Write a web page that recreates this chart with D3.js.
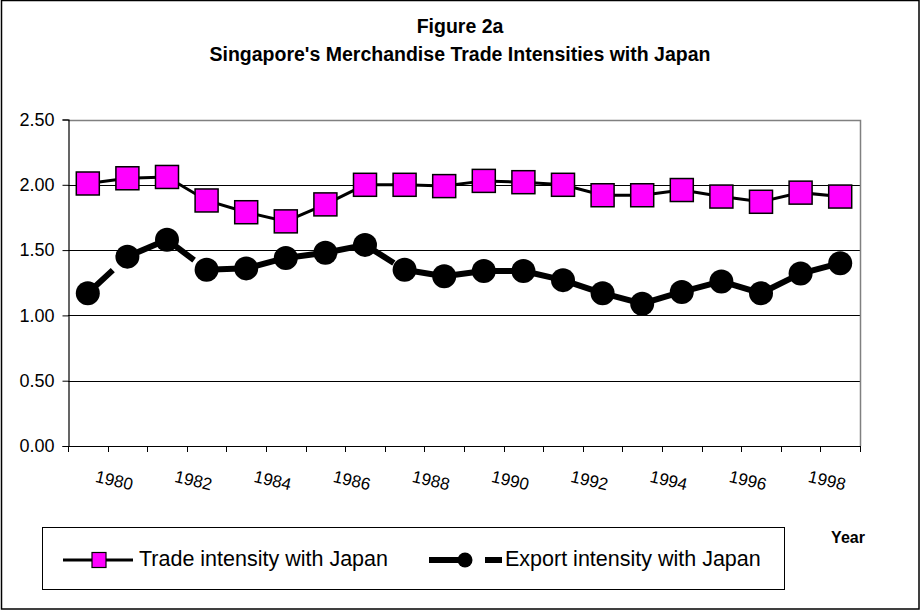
<!DOCTYPE html>
<html>
<head>
<meta charset="utf-8">
<script src="https://cdn.jsdelivr.net/npm/d3@7"></script>
<style>
  html, body { margin: 0; padding: 0; background: #fff; }
  svg { display: block; font-family: "Liberation Sans", Arial, Helvetica, sans-serif; }
</style>
</head>
<body>
<svg id="chart" width="922" height="611"></svg>
<script>
const years = [1979,1980,1981,1982,1983,1984,1985,1986,1987,1988,1989,1990,1991,1992,1993,1994,1995,1996,1997,1998];
const tradeIntensity = [2.01,2.05,2.06,1.88,1.79,1.72,1.85,2.00,2.00,1.99,2.03,2.02,2.00,1.92,1.92,1.96,1.91,1.87,1.94,1.91];
const exportIntensity = [1.17,1.45,1.58,1.35,1.36,1.44,1.48,1.54,1.35,1.30,1.34,1.34,1.27,1.17,1.09,1.18,1.26,1.17,1.32,1.40];
const yTicks = [0,0.5,1.0,1.5,2.0,2.5];
const xLabelYears = [1980,1982,1984,1986,1988,1990,1992,1994,1996,1998];
const seriesNames = ["Trade intensity with Japan","Export intensity with Japan"];
const titleLines = ["Figure 2a","Singapore's Merchandise Trade Intensities with Japan"];
const xAxisTitle = "Year";

const svg = d3.select("#chart");
const L = 68, R = 860, T = 119.5, B = 446;

// outer border
svg.append("rect").attr("x",1.5).attr("y",0.5).attr("width",917.5).attr("height",608.5)
  .attr("fill","none").attr("stroke","#000").attr("stroke-width",1.5);

// titles
svg.append("text").attr("x",460).attr("y",33).attr("text-anchor","middle")
  .attr("font-weight","bold").attr("font-size",19.5).text(titleLines[0]);
svg.append("text").attr("x",460).attr("y",61).attr("text-anchor","middle")
  .attr("font-weight","bold").attr("font-size",19.5).text(titleLines[1]);

const x = d3.scaleBand().domain(years).range([L,R]).padding(0);
const y = d3.scaleLinear().domain([0,2.5]).range([B,T]);

// gridlines
svg.append("g").selectAll("line").data(yTicks.filter(d=>d>0 && d<2.5)).join("line")
  .attr("x1",L).attr("x2",R).attr("y1",d=>Math.round(y(d))+0.5).attr("y2",d=>Math.round(y(d))+0.5)
  .attr("stroke","#000").attr("stroke-width",1);

// plot border top & right (gray)
svg.append("path").attr("d",`M${L},${Math.round(T)+0.5}H${R+0.5}V${B}`)
  .attr("fill","none").attr("stroke","#808080").attr("stroke-width",1.5);

// y axis
const yAxis = d3.axisLeft(y).tickValues(yTicks).tickFormat(d3.format(".2f")).tickSize(6).tickPadding(8);
const gy = svg.append("g").attr("transform",`translate(${L+0.5},0)`).call(yAxis);
gy.select(".domain").attr("stroke","#000").attr("stroke-width",1.2);
gy.selectAll(".tick line").attr("stroke","#000");
gy.selectAll(".tick text").attr("font-size",18).attr("fill","#000")
  .attr("font-family","'Liberation Sans', Arial, sans-serif");

// x axis: ticks at category boundaries
const bounds = years.map(d=>x(d)).concat([R]);
svg.append("line").attr("x1",L).attr("x2",R+1).attr("y1",B+0.5).attr("y2",B+0.5)
  .attr("stroke","#000").attr("stroke-width",1.2);
svg.append("g").selectAll("line").data(bounds).join("line")
  .attr("x1",d=>Math.round(d)+0.5).attr("x2",d=>Math.round(d)+0.5)
  .attr("y1",B).attr("y2",B+6).attr("stroke","#000");

// x labels, rotated
svg.append("g").selectAll("text").data(xLabelYears).join("text")
  .attr("transform",d=>`translate(${x(d)+x.bandwidth()/2+5},${486}) rotate(13)`)
  .attr("text-anchor","end").attr("dominant-baseline","middle")
  .attr("font-size",17).attr("fill","#000").text(d=>d);

const cx = d => x(d)+x.bandwidth()/2;

// trade line
svg.append("path").datum(tradeIntensity)
  .attr("d", d3.line().x((d,i)=>cx(years[i])).y(d=>y(d)))
  .attr("fill","none").attr("stroke","#000").attr("stroke-width",3);

// export line: dashed per segment
const segs = exportIntensity.slice(1).map((v,i)=>[[cx(years[i]),y(exportIntensity[i])],[cx(years[i+1]),y(v)]]);
svg.append("g").selectAll("path").data(segs).join("path")
  .attr("d",d=>d3.line()(d)).attr("fill","none").attr("stroke","#000")
  .attr("stroke-width",6).attr("stroke-dasharray","34,12");

// markers
svg.append("g").selectAll("rect").data(tradeIntensity).join("rect")
  .attr("x",(d,i)=>cx(years[i])-11.5).attr("y",d=>y(d)-11.5).attr("width",23).attr("height",23)
  .attr("fill","#FF00FF").attr("stroke","#000").attr("stroke-width",1.5);
svg.append("g").selectAll("circle").data(exportIntensity).join("circle")
  .attr("cx",(d,i)=>cx(years[i])).attr("cy",d=>y(d)).attr("r",12).attr("fill","#000");

// axis title
svg.append("text").attr("x",848).attr("y",543).attr("text-anchor","middle")
  .attr("font-weight","bold").attr("font-size",16).text(xAxisTitle);

// legend
svg.append("rect").attr("x",42.5).attr("y",527.5).attr("width",742).attr("height",62)
  .attr("fill","#fff").attr("stroke","#000").attr("stroke-width",1);
const ly = 560;
svg.append("line").attr("x1",63).attr("x2",133).attr("y1",ly).attr("y2",ly)
  .attr("stroke","#000").attr("stroke-width",3);
svg.append("rect").attr("x",92).attr("y",ly-7.5).attr("width",14).attr("height",15)
  .attr("fill","#FF00FF").attr("stroke","#000").attr("stroke-width",1.2);
svg.append("text").attr("x",139).attr("y",ly).attr("dominant-baseline","middle")
  .attr("font-size",21.5).text(seriesNames[0]);
svg.append("line").attr("x1",429).attr("x2",463).attr("y1",ly).attr("y2",ly)
  .attr("stroke","#000").attr("stroke-width",6);
svg.append("line").attr("x1",485).attr("x2",502).attr("y1",ly).attr("y2",ly)
  .attr("stroke","#000").attr("stroke-width",6);
svg.append("circle").attr("cx",465).attr("cy",ly).attr("r",7.5).attr("fill","#000");
svg.append("text").attr("x",505).attr("y",ly).attr("dominant-baseline","middle")
  .attr("font-size",21.5).text(seriesNames[1]);
</script>
</body>
</html>
